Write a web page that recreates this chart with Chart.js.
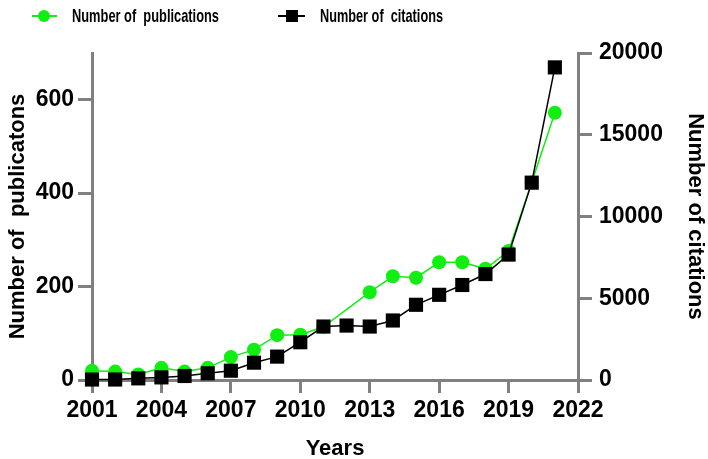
<!DOCTYPE html>
<html>
<head>
<meta charset="utf-8">
<script src="https://cdn.jsdelivr.net/npm/chart.js@4.4.0/dist/chart.umd.min.js"></script>
<style>
  html, body { margin: 0; padding: 0; background: #fff; }
</style>
</head>
<body>
<canvas id="chart" width="708" height="459"></canvas>
<script>
const years = [2001, 2002, 2003, 2004, 2005, 2006, 2007, 2008, 2009, 2010, 2011,
               2012, 2013, 2014, 2015, 2016, 2017, 2018, 2019, 2020, 2021];
// 2012 has no publication marker in the figure, the line just spans it
const publications = [20, 18, 12, 26, 18, 26, 49, 65, 96, 97, 114,
                      null, 188, 222, 219, 252, 252, 238, 276, 423, 572];
const citations = [30, 30, 100, 160, 245, 410, 570, 1060, 1430, 2310, 3270,
                   3330, 3270, 3640, 4600, 5210, 5810, 6480, 7670, 12070, 19120];
const leftTicks = [0, 200, 400, 600];
const rightTicks = [0, 5000, 10000, 15000, 20000];

const GREEN = '#11ee11';
const GREY = '#808080';
const tickFont = { family: '"Liberation Sans", Arial, sans-serif', size: 23, weight: 'bold' };
const narrowFont = { family: '"Liberation Sans Narrow", "Arial Narrow", sans-serif', size: 23, weight: 'bold' };
const titleFont = { family: '"Liberation Sans", Arial, sans-serif', size: 22, weight: 'bold' };

const toPoints = vals => years.map((yr, i) => ({ x: yr, y: vals[i] }));

// legend drawn by hand: line with marker, then text
const topLegend = {
  id: 'topLegend',
  afterDraw(chart) {
    const ctx = chart.ctx;
    const pub = chart.data.datasets[1];
    const cit = chart.data.datasets[0];
    const y = 16;
    ctx.save();
    ctx.lineWidth = 2;
    ctx.strokeStyle = pub.borderColor;
    ctx.beginPath(); ctx.moveTo(32, y); ctx.lineTo(57, y); ctx.stroke();
    ctx.fillStyle = pub.backgroundColor;
    ctx.beginPath(); ctx.arc(44, y, 6, 0, Math.PI * 2); ctx.fill();

    ctx.strokeStyle = cit.borderColor;
    ctx.beginPath(); ctx.moveTo(278, y); ctx.lineTo(305, y); ctx.stroke();
    ctx.fillStyle = cit.backgroundColor;
    ctx.fillRect(286, y - 6, 12, 12);

    ctx.fillStyle = '#000';
    ctx.font = 'bold 19px "Liberation Sans", Arial, sans-serif';
    ctx.textBaseline = 'middle';
    ctx.fillText(pub.label, 72, y + 1, 147);
    ctx.fillText(cit.label, 320, y + 1, 123);
    ctx.restore();
  }
};

const ctx = document.getElementById('chart').getContext('2d');
new Chart(ctx, {
  type: 'line',
  data: {
    datasets: [
      {
        label: 'Number of  citations',
        data: toPoints(citations),
        yAxisID: 'y1',
        borderColor: '#000',
        backgroundColor: '#000',
        borderWidth: 1.5,
        pointStyle: 'rect',
        pointRadius: 10,
        pointHoverRadius: 10,
        pointBorderWidth: 0,
        tension: 0,
        clip: false
      },
      {
        label: 'Number of  publications',
        data: toPoints(publications),
        yAxisID: 'y',
        borderColor: GREEN,
        backgroundColor: GREEN,
        borderWidth: 1.5,
        pointStyle: 'circle',
        pointRadius: 7,
        pointHoverRadius: 7,
        pointBorderWidth: 0,
        spanGaps: true,
        tension: 0,
        clip: false
      }
    ]
  },
  options: {
    responsive: false,
    animation: false,
    layout: { padding: { top: 53 } },
    plugins: {
      legend: { display: false },
      tooltip: { enabled: false }
    },
    scales: {
      x: {
        type: 'linear',
        min: 2001,
        max: 2022,
        afterFit: s => { s.height = 79; },
        border: { color: GREY, width: 3 },
        grid: { drawOnChartArea: false, color: GREY, lineWidth: 3, tickLength: 13 },
        ticks: {
          stepSize: 3,
          color: '#000',
          font: narrowFont,
          padding: 4,
          maxRotation: 0,
          callback: v => String(v)
        },
        title: { display: true, text: 'Years', color: '#000', font: { ...narrowFont, size: 22 }, padding: { top: 4, bottom: -3 } }
      },
      y: {
        position: 'left',
        min: 0,
        max: 700,
        afterFit: s => { s.width = 92; },
        afterBuildTicks: s => { s.ticks = leftTicks.map(v => ({ value: v })); },
        border: { color: GREY, width: 3 },
        grid: { drawOnChartArea: false, color: GREY, lineWidth: 3, tickLength: 14 },
        ticks: { color: '#000', font: tickFont, padding: 4 },
        title: { display: true, text: 'Number of  publicatons', color: '#000', font: titleFont, padding: { top: 5, bottom: 0 } }
      },
      y1: {
        position: 'right',
        min: 0,
        max: 20000,
        afterFit: s => { s.width = 130; },
        afterBuildTicks: s => { s.ticks = rightTicks.map(v => ({ value: v })); },
        border: { color: GREY, width: 3 },
        grid: { drawOnChartArea: false, color: GREY, lineWidth: 3, tickLength: 14 },
        ticks: { color: '#000', font: tickFont, padding: 7, callback: v => String(v) },
        title: { display: true, text: 'Number of citations', color: '#000', font: titleFont, padding: { top: 0, bottom: 0 } }
      }
    }
  },
  plugins: [topLegend]
});
</script>
</body>
</html>
